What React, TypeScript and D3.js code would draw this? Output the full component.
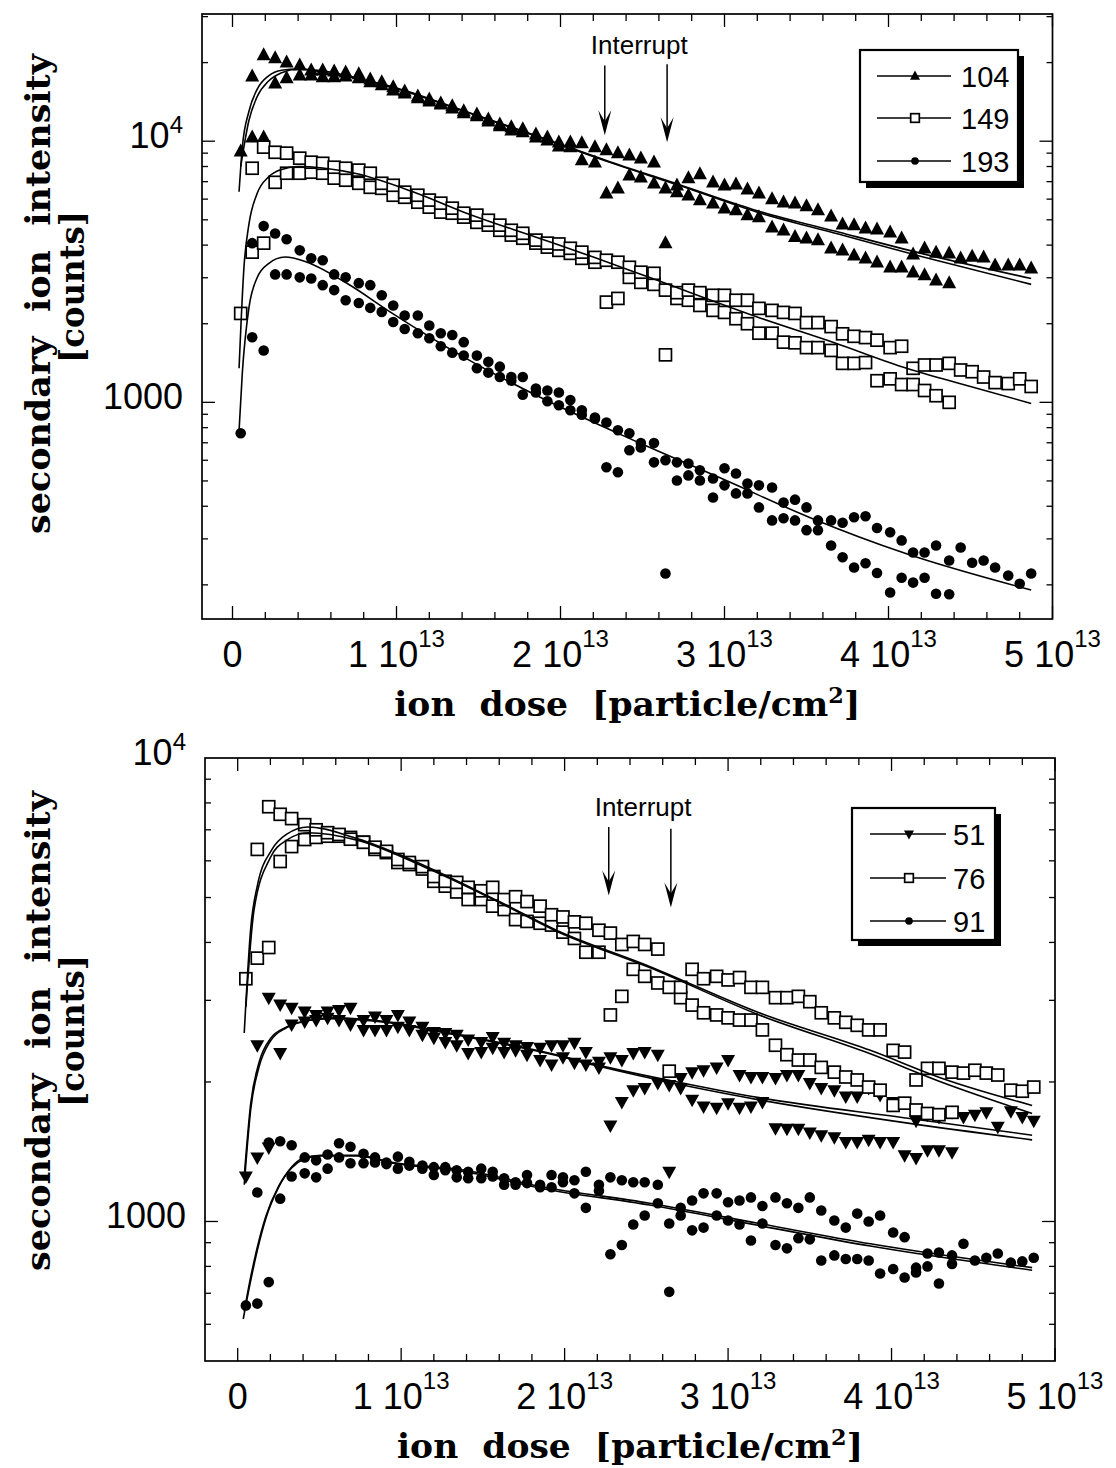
import React from 'react'
import * as d3 from 'd3'

type Pair = [number, number]
type Kind = 'up' | 'down' | 'square' | 'dot'
type Val = number | null

// dose grid of the measurement, in units of 10^13 particle/cm^2
const DOSE = [
  0.05, 0.12, 0.19, 0.26, 0.33, 0.41, 0.48, 0.55, 0.62, 0.69,
  0.77, 0.84, 0.91, 0.98, 1.05, 1.13, 1.2, 1.27, 1.34, 1.41,
  1.49, 1.56, 1.63, 1.7, 1.77, 1.85, 1.92, 1.99, 2.06, 2.13,
  2.21, 2.28, 2.35, 2.42, 2.49, 2.57, 2.64, 2.71, 2.78, 2.85,
  2.93, 3.0, 3.07, 3.14, 3.21, 3.29, 3.36, 3.43, 3.5, 3.57,
  3.65, 3.72, 3.79, 3.86, 3.93, 4.01, 4.08, 4.15, 4.22, 4.29,
  4.37, 4.44, 4.51, 4.58, 4.65, 4.73, 4.8, 4.87,
]

// upper panel. run A is interrupted at the first arrow, run B at the second one
const M104_A: Val[] = [
  9150, 10360, 10360, 16680, 17440, 17900, 17900, 17590, 17590, 17740,
  17440, 16830, 16400, 15680, 15270, 14620, 14230, 13860, 13380, 12810,
  12470, 11920, 11420, 11020, 10830, 10360, 10090, 9570, 9490, 8460,
  8310, 6320, 6600, 7410, 7280, 6900, 6600, 6380, 6210, 5950,
  5790, 5540, 5450, 5210, 5120, 4680, 4560, 4300, 4250, 4180,
  3890, 3820, 3660, 3560, 3440, 3290, 3290, 3150, 3070, 2930,
  2860,
]
const M104_B: Val[] = [
  null, 17740, 21380, 20810, 20060, 19540, 18700, 18700, 18530, 18370,
  18060, 17280, 16830, 16110, 15540, 14870, 14480, 13980, 13620, 13040,
  12690, 12140, 11620, 11320, 11120, 10630, 10360, 9910, 9910, 9830,
  9490, 9240, 9000, 8840, 8610, 8310, 4070, 6780, 7220, 7480,
  6960, 6780, 6840, 6550, 6320, 6000, 5840, 5790, 5640, 5450,
  5160, 4810, 4770, 4640, 4600, 4480, 4250, 3690, 3890, 3750,
  3720, 3560, 3620, 3590, 3350, 3350, 3350, 3260,
]
const M149_A: Val[] = [
  2190, 3760, 4070, 6960, 7540, 7540, 7610, 7540, 7220, 7090,
  6900, 6660, 6600, 6210, 6100, 5840, 5590, 5350, 5300, 5120,
  4890, 4770, 4560, 4370, 4250, 4070, 3930, 3820, 3720, 3560,
  3440, 2420, 2500, 3010, 2880, 2830, 2690, 2500, 2460, 2350,
  2250, 2210, 2090, 2000, 1840, 1840, 1700, 1690, 1620, 1620,
  1580, 1410, 1410, 1420, 1210, 1230, 1170, 1170, 1110, 1060,
  1000,
]
const M149_B: Val[] = [
  null, 7880, 9490, 9070, 9000, 8610, 8310, 8230, 7950, 7880,
  7750, 7540, 6900, 6780, 6380, 6210, 5950, 5790, 5540, 5300,
  5210, 4980, 4770, 4560, 4440, 4180, 4070, 4040, 3890, 3760,
  3590, 3500, 3440, 3290, 3150, 3120, 1520, 2630, 2690, 2630,
  2570, 2570, 2460, 2460, 2290, 2250, 2210, 2190, 2020, 2020,
  1950, 1830, 1790, 1770, 1730, 1620, 1640, 1350, 1390, 1390,
  1410, 1330, 1310, 1250, 1190, 1180, 1230, 1150,
]
const M193_A: Val[] = [
  761, 1775, 1580, 3090, 3090, 3010, 2980, 2810, 2690, 2460,
  2400, 2300, 2220, 2030, 1910, 1840, 1760, 1640, 1550, 1510,
  1350, 1300, 1250, 1210, 1070, 1090, 1010, 975, 932, 897,
  866, 564, 540, 655, 672, 589, 600, 502, 525, 502,
  432, 481, 448, 448, 396, 353, 360, 353, 324, 324,
  283, 255, 233, 242, 222, 187, 213, 204, 213, 185,
  184,
]
const M193_B: Val[] = [
  null, 4070, 4730, 4430, 4210, 3820, 3560, 3500, 3090, 3010,
  2860, 2810, 2570, 2350, 2150, 2150, 1970, 1840, 1810, 1700,
  1510, 1430, 1370, 1250, 1250, 1130, 1110, 1090, 1020, 932,
  875, 837, 782, 761, 698, 698, 221, 589, 583, 549,
  511, 559, 534, 489, 481, 472, 413, 424, 396, 353,
  353, 346, 363, 366, 330, 318, 296, 266, 266, 283,
  248, 278, 243, 248, 233, 217, 202, 221,
]

// lower panel
const M51_A: Val[] = [
  1250, 1375, 1445, 2310, 2660, 2700, 2720, 2750, 2720, 2660,
  2590, 2590, 2590, 2630, 2590, 2530, 2490, 2440, 2400, 2310,
  2320, 2370, 2320, 2340, 2290, 2230, 2180, 2260, 2200, 2180,
  2150, 1610, 1810, 1920, 1940, 1990, 1970, 1940, 1830, 1770,
  1760, 1800, 1760, 1770, 1810, 1590, 1585, 1585, 1555, 1535,
  1520, 1485, 1485, 1500, 1485, 1485, 1390, 1370, 1425, 1425,
  1410,
]
const M51_B: Val[] = [
  null, 2400, 3040, 2940, 2890, 2840, 2790, 2840, 2860, 2890,
  2720, 2770, 2720, 2790, 2700, 2630, 2565, 2550, 2530, 2470,
  2440, 2500, 2430, 2400, 2380, 2370, 2400, 2400, 2430, 2320,
  2210, 2260, 2230, 2310, 2320, 2290, 1280, 2040, 2100, 2120,
  2150, 2230, 2070, 2050, 2050, 2040, 2070, 2070, 1990, 1940,
  1920, 1860, 1860, 1940, 1875, 1810, 1810, 1650, 1700, 1680,
  1720, 1680, 1700, 1720, 1600, 1730, 1680, 1650,
]
const M76_A: Val[] = [
  3340, 3700, 3900, 5980, 6440, 6670, 6740, 6780, 6780, 6740,
  6580, 6350, 6250, 5950, 5890, 5760, 5420, 5290, 5140, 4950,
  4950, 4790, 4710, 4480, 4440, 4400, 4360, 4210, 4080, 3810,
  3810, 2790, 3060, 3500, 3380, 3270, 3200, 3040, 2930, 2820,
  2790, 2750, 2720, 2720, 2590, 2400, 2290, 2230, 2230, 2150,
  2100, 2050, 2020, 1950, 1920, 1780, 1800, 1740, 1710, 1700,
  1720,
]
const M76_B: Val[] = [
  null, 6350, 7850, 7560, 7400, 7180, 7000, 6900, 6840, 6680,
  6580, 6420, 6290, 6040, 5950, 5830, 5550, 5420, 5390, 5260,
  5170, 5260, 4950, 5020, 4900, 4790, 4590, 4540, 4430, 4400,
  4250, 4190, 3960, 4020, 3960, 3870, 2110, 3200, 3500, 3340,
  3380, 3320, 3360, 3200, 3200, 3040, 3040, 3060, 2980, 2820,
  2750, 2690, 2650, 2590, 2590, 2340, 2320, 2020, 2140, 2140,
  2100, 2090, 2120, 2090, 2070, 1920, 1910, 1950,
]
const M91_A: Val[] = [
  659, 665, 740, 1120, 1250, 1270, 1245, 1300, 1375, 1335,
  1335, 1340, 1330, 1300, 1320, 1300, 1260, 1290, 1245, 1240,
  1240, 1250, 1200, 1200, 1210, 1185, 1185, 1215, 1150, 1070,
  1165, 850, 890, 985, 1030, 1095, 990, 1030, 957, 970,
  1030, 1005, 985, 910, 990, 890, 875, 920, 915, 824,
  845, 830, 830, 824, 772, 790, 757, 776, 800, 735,
  810,
]
const M91_B: Val[] = [
  null, 1155, 1480, 1490, 1460, 1375, 1355, 1395, 1475, 1450,
  1400, 1375, 1340, 1380, 1345, 1320, 1310, 1310, 1290, 1280,
  1300, 1280, 1240, 1215, 1260, 1200, 1260, 1245, 1227, 1280,
  1200, 1245, 1227, 1215, 1215, 1200, 705, 1070, 1110, 1150,
  1150, 1100, 1110, 1127, 1080, 1127, 1095, 1070, 1127, 1056,
  1005, 970, 1040, 1000, 1030, 947, 925, 795, 853, 857,
  845, 895, 824, 835, 853, 815, 820, 835,
]

// fitted curves, [dose, counts]
const FIT104_A: Pair[] = [
  [0.04, 6400], [0.06, 9500], [0.1, 13000], [0.15, 15800], [0.22, 17800], [0.3, 18700],
  [0.4, 18900], [0.55, 18400], [0.75, 17400], [1.0, 15900], [1.4, 13100], [1.9, 10200],
  [2.3, 8300], [2.73, 6750], [3.2, 5350], [3.7, 4400], [4.2, 3620], [4.87, 2830],
]
const FIT104_B: Pair[] = [
  [0.05, 8000], [0.1, 12000], [0.15, 14800], [0.22, 17000], [0.3, 18300], [0.4, 18900],
  [0.55, 18600], [0.75, 17500], [1.0, 16000], [1.4, 13150], [1.9, 10250], [2.3, 8350],
  [2.73, 6800], [3.2, 5420], [3.7, 4480], [4.2, 3720], [4.87, 2980],
]
const FIT149: Pair[] = [
  [0.04, 1350], [0.07, 3300], [0.1, 4800], [0.15, 6300], [0.22, 7300], [0.3, 7800],
  [0.4, 8000], [0.55, 7900], [0.76, 7500], [1.1, 6400], [1.41, 5350], [1.87, 4250],
  [2.2, 3600], [2.54, 3010], [3.22, 2100], [3.67, 1690], [4.11, 1350], [4.5, 1150], [4.87, 990],
]
const FIT193: Pair[] = [
  [0.04, 780], [0.06, 1300], [0.1, 2300], [0.15, 3000], [0.22, 3400], [0.32, 3600],
  [0.45, 3450], [0.7, 2850], [0.97, 2200], [1.41, 1490], [1.87, 1050], [2.48, 700],
  [3.0, 505], [3.53, 360], [4.11, 263], [4.87, 191],
]
const FIT51_A: Pair[] = [
  [0.04, 1200], [0.08, 1750], [0.13, 2150], [0.2, 2450], [0.3, 2620], [0.45, 2720],
  [0.6, 2750], [0.9, 2700], [1.3, 2550], [1.95, 2290], [2.19, 2180], [2.75, 1980],
  [3.19, 1850], [4.1, 1670], [4.86, 1535],
]
const FIT51_B: Pair[] = [
  [0.04, 1250], [0.08, 1800], [0.13, 2200], [0.2, 2480], [0.3, 2630], [0.45, 2720],
  [0.6, 2740], [0.9, 2690], [1.3, 2540], [1.95, 2280], [2.19, 2170], [2.75, 1960],
  [3.19, 1830], [4.1, 1630], [4.86, 1500],
]
const FIT76_A: Pair[] = [
  [0.04, 2550], [0.08, 4300], [0.12, 5300], [0.21, 6350], [0.3, 6850], [0.43, 7100],
  [0.73, 6700], [1.17, 5800], [1.6, 4900], [1.95, 4250], [2.52, 3550], [3.19, 2820],
  [3.87, 2340], [4.32, 2030], [4.86, 1780],
]
const FIT76_B: Pair[] = [
  [0.05, 2900], [0.1, 4700], [0.2, 6100], [0.3, 6650], [0.43, 6900], [0.73, 6650],
  [1.17, 5760], [1.6, 4880], [1.95, 4230], [2.52, 3530], [3.19, 2790], [3.87, 2300],
  [4.32, 1990], [4.86, 1710],
]
const FIT91_A: Pair[] = [
  [0.034, 616], [0.076, 735], [0.12, 866], [0.174, 1020], [0.25, 1185], [0.33, 1310],
  [0.4, 1370], [0.51, 1390], [0.73, 1390], [0.95, 1340], [1.39, 1290], [1.85, 1190],
  [2.52, 1095], [3.19, 990], [3.87, 895], [4.86, 795],
]
const FIT91_B: Pair[] = [
  [0.04, 640], [0.08, 760], [0.12, 880], [0.174, 1030], [0.25, 1190], [0.33, 1305],
  [0.4, 1360], [0.51, 1385], [0.73, 1385], [0.95, 1335], [1.39, 1280], [1.85, 1180],
  [2.52, 1085], [3.19, 980], [3.87, 885], [4.86, 785],
]

// beam interruptions: dose of each arrow and the counts it spans
const INTERRUPT_DOSE = [2.27, 2.65]
const ARROWS_TOP: Pair[] = [[19500, 10540], [19700, 9900]]
const ARROWS_BOTTOM: Pair[] = [[7100, 5050], [7040, 4760]]

const X_TICK_LABELS = [0, 1, 2, 3, 4, 5]
const Y_TICK_LABELS = [1000, 10000]
const LEGEND_TOP = ['104', '149', '193']
const LEGEND_BOTTOM = ['51', '76', '91']

const SANS = "'Liberation Sans', Arial, Helvetica, sans-serif"
const SERIF = "'DejaVu Serif', 'Liberation Serif', serif"

function Marker({ kind, x, y, k = 1 }: { kind: Kind; x: number; y: number; k?: number }) {
  if (kind === 'up') {
    const w = 14 * k, h = 13 * k
    return <path d={`M${x},${y - h * 0.6}L${x + w / 2},${y + h * 0.4}L${x - w / 2},${y + h * 0.4}Z`} fill="#000" />
  }
  if (kind === 'down') {
    const w = 14 * k, h = 12.5 * k
    return <path d={`M${x},${y + h * 0.6}L${x + w / 2},${y - h * 0.4}L${x - w / 2},${y - h * 0.4}Z`} fill="#000" />
  }
  if (kind === 'square') {
    const a = 12 * k
    return <rect x={x - a / 2} y={y - a / 2} width={a} height={a} fill="#fff" stroke="#000" strokeWidth={1.7} />
  }
  return <circle cx={x} cy={y} r={5.3 * k} fill="#000" />
}

const PANELS = [
  {
    box: { x0: 202, x1: 1052.5, y0: 14, y1: 619 },
    xDomain: [-0.186, 5],
    yDomain: [148, 30700],
    series: [
      { kind: 'up' as Kind, runs: [M104_A, M104_B], fits: [FIT104_A, FIT104_B] },
      { kind: 'square' as Kind, runs: [M149_A, M149_B], fits: [FIT149] },
      { kind: 'dot' as Kind, runs: [M193_A, M193_B], fits: [FIT193] },
    ],
    legendLabels: LEGEND_TOP,
    legend: { x: 860, y: 50, w: 158, h: 132, rows: [76, 118, 161], line: [877, 951], mark: 915, text: 961 },
    arrows: ARROWS_TOP,
    titleY: [294, 287],
  },
  {
    box: { x0: 205, x1: 1055, y0: 758, y1: 1361 },
    xDomain: [-0.2, 5],
    yDomain: [500, 10000],
    series: [
      { kind: 'down' as Kind, runs: [M51_A, M51_B], fits: [FIT51_A, FIT51_B] },
      { kind: 'square' as Kind, runs: [M76_A, M76_B], fits: [FIT76_A, FIT76_B] },
      { kind: 'dot' as Kind, runs: [M91_A, M91_B], fits: [FIT91_A, FIT91_B] },
    ],
    legendLabels: LEGEND_BOTTOM,
    legend: { x: 852, y: 808, w: 143, h: 132, rows: [834, 878, 921], line: [870, 946], mark: 909, text: 953 },
    arrows: ARROWS_BOTTOM,
    titleY: [1031, 1031],
  },
]

function Panel({ p }: { p: (typeof PANELS)[number] }) {
  const { box } = p
  const x = d3.scaleLinear().domain(p.xDomain).range([box.x0, box.x1])
  const y = d3.scaleLog().domain(p.yDomain).range([box.y1, box.y0])
  const line = d3
    .line<Pair>()
    .x((d) => x(d[0]))
    .y((d) => y(d[1]))
    .curve(d3.curveMonotoneX)

  const xTicks = d3.range(0, 26).map((i) => i * 0.2)
  const yTicks = y.ticks().filter((v) => y(v) > box.y0 + 2 && y(v) < box.y1 - 2)
  const isDecade = (v: number) => Math.abs(Math.log10(v) - Math.round(Math.log10(v))) < 1e-9
  const midX = (box.x0 + box.x1) / 2
  const lg = p.legend

  return (
    <g>
      {/* data */}
      {p.series.map((s, si) =>
        s.runs.map((run, ri) =>
          run.map((v, i) =>
            v == null ? null : <Marker key={`${si}-${ri}-${i}`} kind={s.kind} x={x(DOSE[i])} y={y(v)} />
          )
        )
      )}
      {p.series.map((s, si) =>
        s.fits.map((f, fi) => (
          <path key={`f${si}-${fi}`} d={line(f) || ''} fill="none" stroke="#000" strokeWidth={1.6} />
        ))
      )}

      {/* frame and ticks */}
      <rect x={box.x0} y={box.y0} width={box.x1 - box.x0} height={box.y1 - box.y0} fill="none" stroke="#000" strokeWidth={1.7} />
      {xTicks.map((v, i) => {
        const len = i % 5 === 0 ? 13 : 7
        const px = x(v)
        return (
          <g key={`xt${i}`} stroke="#000" strokeWidth={1.3}>
            <line x1={px} x2={px} y1={box.y1} y2={box.y1 - len} />
            <line x1={px} x2={px} y1={box.y0} y2={box.y0 + len} />
          </g>
        )
      })}
      {yTicks.map((v, i) => {
        const len = isDecade(v) ? 13 : 6
        const py = y(v)
        return (
          <g key={`yt${i}`} stroke="#000" strokeWidth={1.3}>
            <line x1={box.x0} x2={box.x0 + len} y1={py} y2={py} />
            <line x1={box.x1} x2={box.x1 - len} y1={py} y2={py} />
          </g>
        )
      })}

      {/* tick labels */}
      <g fontFamily={SANS} fontSize={36} fill="#000">
        {X_TICK_LABELS.map((n) => (
          <text key={`xl${n}`} x={x(n)} y={box.y1 + 48} textAnchor="middle">
            {n === 0 ? (
              '0'
            ) : (
              <>
                {n} 10<tspan dy={-20} fontSize={24}>13</tspan>
              </>
            )}
          </text>
        ))}
        {Y_TICK_LABELS.map((v) => (
          <text key={`yl${v}`} x={box.x0 - 19} y={y(v) + 7} textAnchor="end">
            {v === 10000 ? (
              <>
                10<tspan dy={-15} fontSize={24}>4</tspan>
              </>
            ) : (
              String(v)
            )}
          </text>
        ))}
      </g>

      {/* axis titles */}
      <g fontFamily={SERIF} fontWeight="bold" fontSize={34} fill="#000">
        <text
          transform={`translate(50,${p.titleY[0]}) rotate(-90)`}
          textAnchor="middle"
          textLength={480}
          lengthAdjust="spacingAndGlyphs"
          xmlSpace="preserve"
        >
          {'secondary  ion  intensity'}
        </text>
        <text
          transform={`translate(84,${p.titleY[1]}) rotate(-90)`}
          textAnchor="middle"
          textLength={152}
          lengthAdjust="spacingAndGlyphs"
        >
          [counts]
        </text>
        <text
          x={midX}
          y={box.y1 + 97}
          textAnchor="middle"
          textLength={466}
          lengthAdjust="spacingAndGlyphs"
          xmlSpace="preserve"
        >
          {'ion  dose  [particle/cm'}
          <tspan dy={-13} fontSize={22}>2</tspan>
          <tspan dy={13}>]</tspan>
        </text>
      </g>

      {/* interrupt arrows */}
      {INTERRUPT_DOSE.map((d, i) => {
        const px = x(d)
        const y0 = y(p.arrows[i][0])
        const tip = y(p.arrows[i][1])
        return (
          <g key={`ar${i}`}>
            <line x1={px} x2={px} y1={y0} y2={tip - 12} stroke="#000" strokeWidth={1.5} />
            <path d={`M${px},${tip}L${px - 6.5},${tip - 25}L${px},${tip - 14}L${px + 6.5},${tip - 25}Z`} fill="#000" />
          </g>
        )
      })}
      <text
        x={x(2.48)}
        y={y(p.arrows[0][0]) - 11}
        textAnchor="middle"
        fontFamily={SANS}
        fontSize={26}
        fill="#000"
      >
        Interrupt
      </text>

      {/* legend */}
      <rect x={lg.x + 6} y={lg.y + 6} width={lg.w} height={lg.h} fill="#000" />
      <rect x={lg.x} y={lg.y} width={lg.w} height={lg.h} fill="#fff" stroke="#000" strokeWidth={2.2} />
      {p.series.map((s, i) => (
        <g key={`lg${i}`}>
          <line x1={lg.line[0]} x2={lg.line[1]} y1={lg.rows[i]} y2={lg.rows[i]} stroke="#000" strokeWidth={1.5} />
          <Marker kind={s.kind} x={lg.mark} y={lg.rows[i]} k={0.72} />
          <text x={lg.text} y={lg.rows[i] + 10.5} fontFamily={SANS} fontSize={29} fill="#000">
            {p.legendLabels[i]}
          </text>
        </g>
      ))}
    </g>
  )
}

export default function App() {
  return (
    <svg
      width={1116}
      height={1468}
      viewBox="0 0 1116 1468"
      style={{ position: 'absolute', left: 0, top: 0, background: '#fff' }}
    >
      <rect width={1116} height={1468} fill="#fff" />
      {PANELS.map((p, i) => (
        <Panel key={i} p={p} />
      ))}
    </svg>
  )
}
